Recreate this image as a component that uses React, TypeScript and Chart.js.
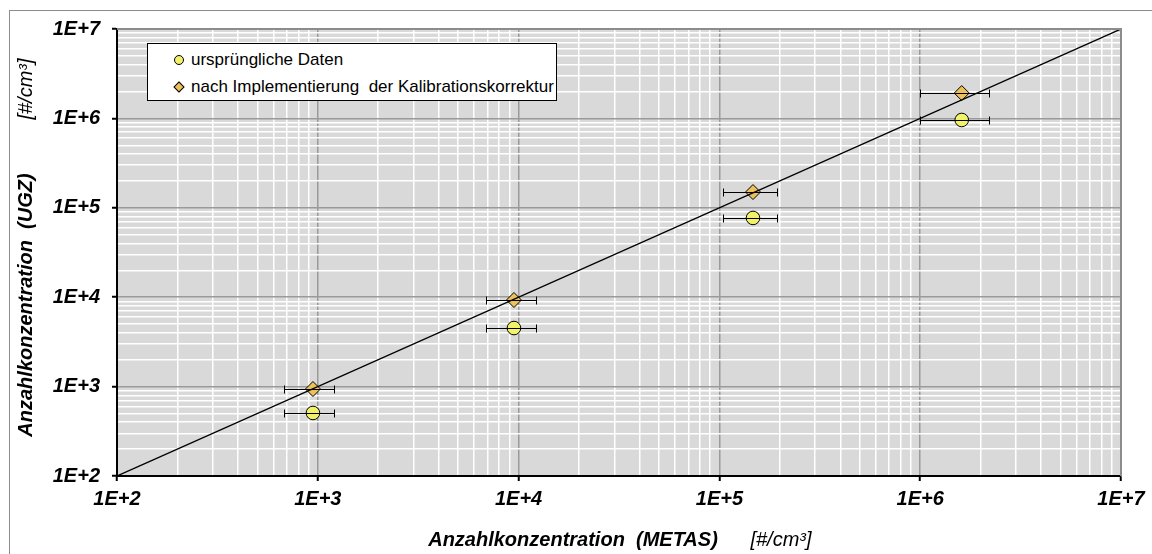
import React, { useEffect, useRef } from "react";
import { Chart, registerables } from "chart.js";

Chart.register(...registerables);

// Reference concentration (METAS) with its horizontal uncertainty range
const metasValues = [946, 9480, 147000, 1610000];
const metasLower = [680, 6890, 104000, 1000000];
const metasUpper = [1205, 12200, 194000, 2200000];
// UGZ readings before and after the calibration correction
const originalValues = [507, 4520, 77000, 960000];
const correctedValues = [940, 9300, 150000, 1920000];
// 1:1 reference line
const identityLine = [100, 10000000];

const axisMin = 100;
const axisMax = 10000000;
const decadeExponents = [2, 3, 4, 5, 6, 7];

const seriesLabels = ["ursprüngliche Daten", "nach Implementierung  der Kalibrationskorrektur"];
const axisTitleX = "Anzahlkonzentration  (METAS)";
const axisTitleY = "Anzahlkonzentration  (UGZ)";
const unitLabel = "[#/cm³]";

const FONT = '"Liberation Sans", Arial, sans-serif';
const CIRCLE_FILL = "#f2f26a";
const DIAMOND_FILL = "#ecc05a";

const isDecade = (v: number) => {
  const l = Math.log10(v);
  return Math.abs(l - Math.round(l)) < 1e-9;
};

const logTicks = () => {
  const out: { value: number }[] = [];
  decadeExponents.forEach((e, i) => {
    const base = Math.pow(10, e);
    if (i === decadeExponents.length - 1) {
      out.push({ value: base });
      return;
    }
    for (let m = 1; m <= 9; m++) out.push({ value: m * base });
  });
  return out;
};

const plotDecor = {
  id: "plotDecor",
  beforeDraw(chart: any) {
    const { ctx, chartArea: a } = chart;
    ctx.save();
    ctx.fillStyle = "#ffffff";
    ctx.fillRect(0, 0, chart.width, chart.height);
    ctx.strokeStyle = "#8c8c8c";
    ctx.lineWidth = 1;
    ctx.strokeRect(9.5, 10.5, 1200, 600);
    ctx.fillStyle = "#d9d9d9";
    ctx.fillRect(a.left, a.top, a.right - a.left, a.bottom - a.top);
    ctx.restore();
  },
  afterDatasetsDraw(chart: any) {
    const { ctx, chartArea: a, scales } = chart;
    const xs = scales.x;
    const ys = scales.y;
    ctx.save();
    // plot frame on top and right
    ctx.strokeStyle = "#8c8c8c";
    ctx.lineWidth = 2;
    ctx.beginPath();
    ctx.moveTo(a.left, a.top);
    ctx.lineTo(a.right, a.top);
    ctx.lineTo(a.right, a.bottom);
    ctx.stroke();
    // horizontal error bars for both series
    ctx.strokeStyle = "#000000";
    ctx.lineWidth = 1;
    [originalValues, correctedValues].forEach((ys2) => {
      ys2.forEach((yv, i) => {
        const py = Math.round(ys.getPixelForValue(yv)) + 0.5;
        const x1 = Math.round(xs.getPixelForValue(metasLower[i])) + 0.5;
        const x2 = Math.round(xs.getPixelForValue(metasUpper[i])) + 0.5;
        ctx.beginPath();
        ctx.moveTo(x1, py);
        ctx.lineTo(x2, py);
        ctx.moveTo(x1, py - 4);
        ctx.lineTo(x1, py + 4);
        ctx.moveTo(x2, py - 4);
        ctx.lineTo(x2, py + 4);
        ctx.stroke();
      });
    });
    ctx.restore();
  },
};

const scaleBase = (fit: (s: any) => void, padding: number) => ({
  type: "logarithmic" as const,
  min: axisMin,
  max: axisMax,
  afterBuildTicks: (s: any) => {
    s.ticks = logTicks();
  },
  afterFit: fit,
  border: { display: true, color: "#000000", width: 2 },
  grid: {
    drawTicks: true,
    tickLength: 5,
    color: (c: any) => (c.tick && isDecade(c.tick.value) ? "#9a9a9a" : "#ffffff"),
    lineWidth: 1.5,
    tickColor: (c: any) => (c.tick && isDecade(c.tick.value) ? "#000000" : "rgba(0,0,0,0)"),
    tickWidth: 2,
  },
  ticks: {
    autoSkip: false,
    maxRotation: 0,
    padding,
    color: "#000000",
    font: { family: FONT, size: 20, style: "italic" as const, weight: "bold" as const },
    callback: (v: any) => (isDecade(Number(v)) ? `1E+${Math.round(Math.log10(Number(v)))}` : ""),
  },
});

function ScatterChart() {
  const ref = useRef<HTMLCanvasElement | null>(null);
  useEffect(() => {
    if (!ref.current) return;
    const chart = new Chart(ref.current, {
      type: "scatter",
      data: {
        datasets: [
          {
            type: "line",
            label: "1:1",
            data: identityLine.map((v) => ({ x: v, y: v })),
            borderColor: "#000000",
            borderWidth: 1.3,
            pointRadius: 0,
            fill: false,
          },
          {
            label: seriesLabels[1],
            data: metasValues.map((x, i) => ({ x, y: correctedValues[i] })),
            pointStyle: "rectRot",
            pointRadius: 7.5,
            backgroundColor: DIAMOND_FILL,
            borderColor: "#000000",
            borderWidth: 1,
          },
          {
            label: seriesLabels[0],
            data: metasValues.map((x, i) => ({ x, y: originalValues[i] })),
            pointStyle: "circle",
            pointRadius: 6.8,
            backgroundColor: CIRCLE_FILL,
            borderColor: "#000000",
            borderWidth: 1,
          },
        ],
      } as any,
      options: {
        responsive: false,
        animation: false,
        devicePixelRatio: 1,
        layout: { padding: { left: 0, top: 29, right: 31, bottom: 0 } },
        plugins: { legend: { display: false }, tooltip: { enabled: false } },
        scales: {
          x: scaleBase((s: any) => {
            s.height = 78;
          }, 6),
          y: scaleBase((s: any) => {
            s.width = 117;
          }, 12),
        } as any,
      },
      plugins: [plotDecor],
    });
    return () => chart.destroy();
  }, []);
  return <canvas ref={ref} width={1152} height={554} style={{ position: "absolute", left: 0, top: 0, width: 1152, height: 554 }} />;
}

const titleStyle: React.CSSProperties = {
  position: "absolute",
  fontFamily: FONT,
  fontSize: 20,
  fontWeight: "bold",
  fontStyle: "italic",
  whiteSpace: "pre",
  color: "#000",
  lineHeight: 1,
};

const unitStyle: React.CSSProperties = { ...titleStyle, fontWeight: "normal" };

function Legend() {
  const row: React.CSSProperties = {
    position: "absolute",
    left: 43,
    fontFamily: FONT,
    fontSize: 17,
    lineHeight: "18px",
    whiteSpace: "pre",
    color: "#000",
  };
  return (
    <div
      style={{
        position: "absolute",
        left: 147,
        top: 43,
        width: 410,
        height: 58,
        boxSizing: "border-box",
        border: "1px solid #000",
        background: "#fff",
      }}
    >
      <div
        style={{
          position: "absolute",
          left: 26,
          top: 11,
          width: 8,
          height: 8,
          borderRadius: "50%",
          border: "1px solid #000",
          background: CIRCLE_FILL,
        }}
      />
      <div style={{ ...row, top: 7 }}>{seriesLabels[0]}</div>
      <div
        style={{
          position: "absolute",
          left: 27,
          top: 39,
          width: 6,
          height: 6,
          transform: "rotate(45deg)",
          border: "1px solid #000",
          background: DIAMOND_FILL,
        }}
      />
      <div style={{ ...row, top: 34 }}>{seriesLabels[1]}</div>
    </div>
  );
}

export default function App() {
  return (
    <div style={{ position: "absolute", left: 0, top: 0, width: 1152, height: 554, overflow: "hidden", background: "#fff" }}>
      <ScatterChart />
      <Legend />
      <div style={{ ...titleStyle, left: 573, top: 539, transform: "translate(-50%, -50%)" }}>{axisTitleX}</div>
      <div style={{ ...unitStyle, left: 781, top: 539, transform: "translate(-50%, -50%)" }}>{unitLabel}</div>
      <div style={{ ...titleStyle, left: 25, top: 305, transform: "translate(-50%, -50%) rotate(-90deg)" }}>{axisTitleY}</div>
      <div style={{ ...unitStyle, left: 25, top: 89, transform: "translate(-50%, -50%) rotate(-90deg)" }}>{unitLabel}</div>
    </div>
  );
}
